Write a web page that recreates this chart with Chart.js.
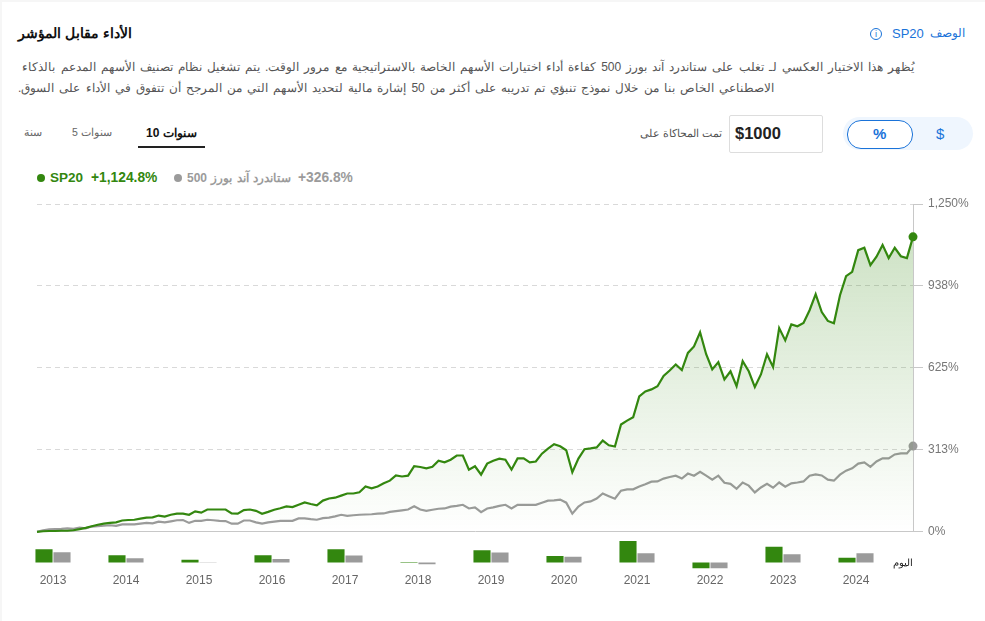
<!DOCTYPE html>
<html lang="ar">
<head>
<meta charset="utf-8">
<title>SP20</title>
<script src="https://cdn.jsdelivr.net/npm/chart.js@4/dist/chart.umd.min.js"></script>
<style>
  html, body { margin: 0; padding: 0; background: #f6f6f6; }
  body { width: 985px; height: 621px; overflow: hidden; position: relative; font-family: "Liberation Sans", Arial, sans-serif; }
  #card { position: absolute; left: 2px; top: 2px; width: 983px; height: 619px; background: #fff; }
  .t { position: absolute; white-space: nowrap; line-height: 1; }
  canvas { position: absolute; left: 0; }
  #lineChart { top: 190px; }
  #barChart { top: 540px; }
  .dot { position: absolute; border-radius: 50%; width: 8px; height: 8px; }
</style>
</head>
<body>
<div id="card"></div>

<div class="t" style="left:18px;top:26px;font-size:14px;font-weight:bold;color:#111" dir="rtl">الأداء مقابل المؤشر</div>
<div class="t" style="left:930px;top:28px;font-size:11.5px;color:#1a73d9" dir="rtl">الوصف</div>
<div class="t" style="left:892px;top:27px;font-size:13px;color:#1a73d9">SP20</div>
<div class="t" style="left:870px;top:28px;width:10px;height:10px;border:1px solid #1a73d9;border-radius:50%;font-size:9px;color:#1a73d9;text-align:center;line-height:10px">i</div>

<div class="t" style="left:18px;top:61px;width:896px;text-align:right;font-size:12px;word-spacing:1.75px;color:#555" dir="rtl">يُظهر هذا الاختيار العكسي لـ تغلب على ستاندرد آند بورز 500 كفاءة أداء اختيارات الأسهم الخاصة بالاستراتيجية مع مرور الوقت. يتم تشغيل نظام تصنيف الأسهم المدعم بالذكاء</div>
<div class="t" style="left:18px;top:82px;font-size:12px;word-spacing:1.75px;color:#555" dir="rtl">الاصطناعي الخاص بنا من خلال نموذج تنبؤي تم تدريبه على أكثر من 50 إشارة مالية لتحديد الأسهم التي من المرجح أن تتفوق في الأداء على السوق.</div>

<div class="t" style="left:146px;top:127px;font-size:12px;font-weight:bold;color:#111" dir="rtl">سنوات 10</div>
<div style="position:absolute;left:138px;top:146px;width:67px;height:2px;background:#222"></div>
<div class="t" style="left:72px;top:127px;font-size:10.5px;color:#666" dir="rtl">سنوات 5</div>
<div class="t" style="left:24px;top:127px;font-size:11px;color:#666" dir="rtl">سنة</div>

<div class="t" style="left:640px;top:128px;font-size:11px;color:#555" dir="rtl">تمت المحاكاة على</div>
<div style="position:absolute;left:729px;top:115px;width:92px;height:36px;border:1px solid #ddd;border-radius:2px"></div>
<div class="t" style="left:735px;top:125px;font-size:16.5px;font-weight:bold;color:#222">$1000</div>
<div style="position:absolute;left:843px;top:117px;width:130px;height:33px;background:#eff6fe;border-radius:17px"></div>
<div style="position:absolute;left:847px;top:120px;width:64px;height:27px;background:#fff;border:1px solid #1a73d9;border-radius:14px"></div>
<div class="t" style="left:873px;top:126px;font-size:15px;font-weight:bold;color:#1a73d9">%</div>
<div class="t" style="left:936px;top:126px;font-size:15px;color:#1a73d9">$</div>

<div class="dot" style="left:37px;top:174px;background:#33870f"></div>
<div class="t" style="left:50px;top:171px;font-size:13.5px;font-weight:bold;color:#33870f">SP20</div>
<div class="t" style="left:91px;top:171px;font-size:13.8px;font-weight:bold;color:#33870f">+1,124.8%</div>
<div class="dot" style="left:174px;top:174px;background:#9b9b9b"></div>
<div class="t" style="left:187px;top:172px;font-size:12px;font-weight:bold;color:#9b9b9b;word-spacing:1px" dir="rtl">ستاندرد آند بورز 500</div>
<div class="t" style="left:298px;top:171px;font-size:13.8px;font-weight:bold;color:#9b9b9b">+326.8%</div>

<canvas id="lineChart" width="985" height="354"></canvas>
<canvas id="barChart" width="985" height="51"></canvas>
<div class="t" style="left:893px;top:558px;font-size:9.5px;color:#222" dir="rtl">اليوم</div>

<script>
const strategyReturns = [0,2,3,3,4,4,6,10,15,21,27,31,34,36,43,45,46,50,54,55,62,58,65,69,69,65,78,73,85,85,85,85,70,69,83,85,80,69,76,84,90,97,94,103,112,106,101,119,127,130,138,146,146,151,173,166,173,185,195,215,211,214,250,247,242,248,271,265,275,291,291,237,250,218,260,271,279,275,237,280,280,265,268,298,317,334,326,311,227,279,315,318,322,348,330,325,409,424,437,516,535,543,555,594,615,638,617,682,707,761,677,619,647,581,612,555,651,612,552,600,677,628,777,730,791,784,796,845,906,838,804,795,902,975,991,1074,1083,1017,1049,1094,1044,1083,1051,1044,1124.8];
const indexReturns = [0,6,9,10,11,13,11,16,13,20,22,23,25,23,28,28,28,31,34,32,39,36,40,44,45,34,42,42,46,44,42,41,31,31,43,43,36,31,36,39,42,42,42,51,51,48,46,52,54,59,65,61,63,65,66,67,69,70,76,79,82,85,97,85,80,84,88,89,96,99,103,89,93,75,89,93,99,103,89,103,103,103,103,111,119,120,123,111,69,96,112,116,127,146,136,126,157,162,162,173,181,191,192,203,209,214,203,222,214,229,214,199,214,187,183,164,188,176,150,169,183,168,188,172,185,188,192,214,219,215,199,195,218,233,242,260,265,248,268,280,280,295,299,299,326.8];
const yTicks = [0, 313, 625, 938, 1250];

const years = ["2013","2014","2015","2016","2017","2018","2019","2020","2021","2022","2023","2024"];
const strategyAnnual = [41,23,9,23,41,1.5,38,20,67,-18,49,15];
const indexAnnual = [32,13.5,1,11,22,-5,31,18,29,-18,26,29];

const green = "#33870f";
const gray = "#9b9b9b";

const monthLabels = strategyReturns.map((v, i) => {
  const m = i + 3;
  return (2013 + Math.floor(m / 12)) + "-" + String(m % 12 + 1).padStart(2, "0");
});

function endPointRadius(ctx) {
  return ctx.dataIndex === strategyReturns.length - 1 ? 4.5 : 0;
}

function fillGradient(ctx) {
  const area = ctx.chart.chartArea;
  if (!area) return "transparent";
  const g = ctx.chart.ctx.createLinearGradient(0, area.top + 33, 0, area.bottom);
  g.addColorStop(0, "rgba(51,135,15,0.24)");
  g.addColorStop(1, "rgba(51,135,15,0)");
  return g;
}

new Chart(document.getElementById("lineChart"), {
  type: "line",
  data: {
    labels: monthLabels,
    datasets: [
      {
        label: "SP20",
        data: strategyReturns,
        borderColor: green,
        backgroundColor: fillGradient,
        pointBackgroundColor: green,
        pointBorderWidth: 0,
        pointRadius: endPointRadius,
        borderWidth: 2.2,
        tension: 0,
        fill: "origin",
        clip: false,
      },
      {
        label: "500 ستاندرد آند بورز",
        data: indexReturns,
        borderColor: gray,
        pointBackgroundColor: gray,
        pointBorderWidth: 0,
        pointRadius: endPointRadius,
        borderWidth: 2.2,
        tension: 0,
        fill: false,
        clip: false,
      },
    ],
  },
  options: {
    responsive: false,
    animation: false,
    layout: { padding: { left: 37, top: 14, bottom: 0, right: 0 } },
    plugins: { legend: { display: false }, tooltip: { enabled: false } },
    scales: {
      x: {
        offset: false,
        grid: { display: false },
        ticks: { display: false },
        border: { display: true, color: "#c8c8c8" },
      },
      y: {
        position: "right",
        min: 0,
        max: 1250,
        afterBuildTicks: (axis) => {
          axis.ticks = yTicks.map((v) => ({ value: v }));
        },
        afterFit: (axis) => {
          axis.width = 72;
        },
        grid: { color: "#d9d9d9", tickColor: "#c8c8c8", tickLength: 10, tickBorderDash: [] },
        border: { display: true, color: "#c8c8c8", dash: [5, 4] },
        ticks: {
          color: "#777",
          padding: 5,
          font: { family: "'Liberation Sans', Arial, sans-serif", size: 12 },
          callback: (v) => v.toLocaleString("en-US") + "%",
        },
      },
    },
  },
});

new Chart(document.getElementById("barChart"), {
  type: "bar",
  data: {
    labels: years,
    datasets: [
      { label: "SP20", data: strategyAnnual, backgroundColor: green },
      { label: "500 ستاندرد آند بورز", data: indexAnnual, backgroundColor: gray },
    ],
  },
  options: {
    responsive: false,
    animation: false,
    layout: { padding: { left: 16.5, right: 92.5, top: 0, bottom: 0 } },
    plugins: { legend: { display: false }, tooltip: { enabled: false } },
    datasets: { bar: { categoryPercentage: 0.493, barPercentage: 0.95 } },
    scales: {
      x: {
        grid: { display: false, drawTicks: false, tickLength: 0 },
        border: { display: false },
        ticks: {
          color: "#666",
          padding: 3,
          maxRotation: 0,
          font: { family: "'Liberation Sans', Arial, sans-serif", size: 12 },
        },
      },
      y: { display: false, min: -25, max: 70 },
    },
  },
});
</script>
</body>
</html>
